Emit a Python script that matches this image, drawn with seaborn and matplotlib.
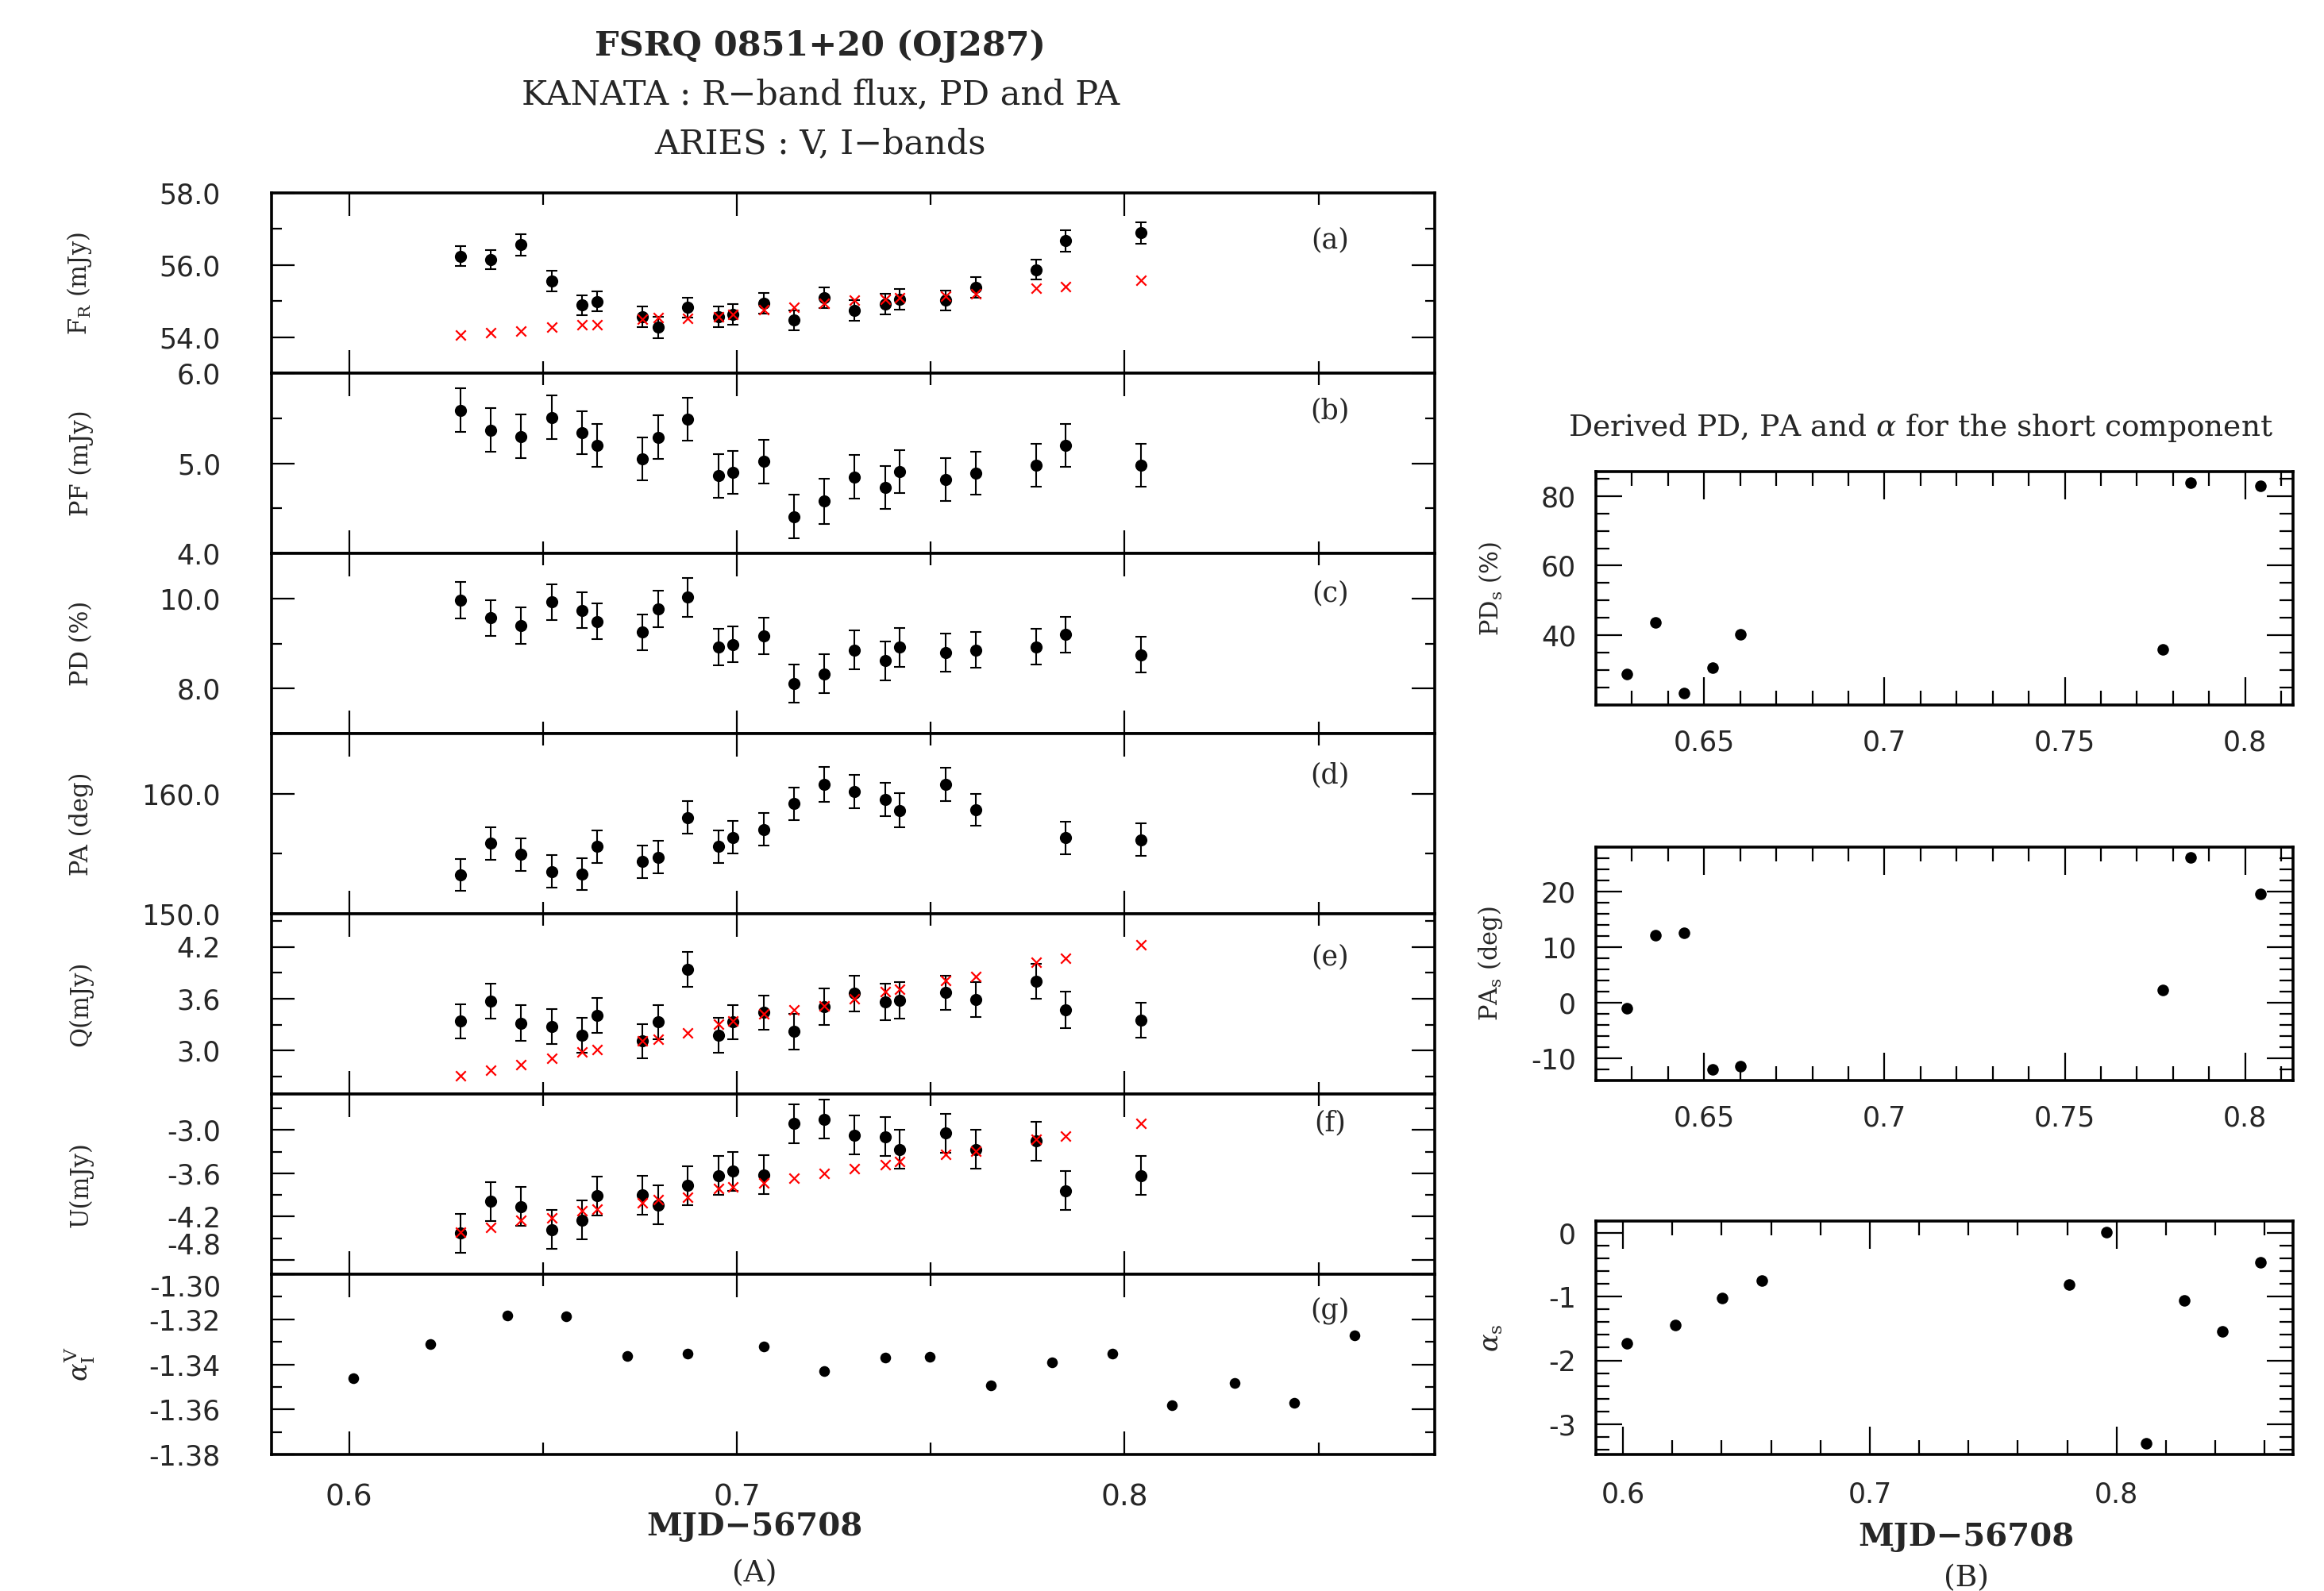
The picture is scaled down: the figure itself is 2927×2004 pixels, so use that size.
import matplotlib
matplotlib.use("Agg")
import matplotlib.pyplot as plt
import numpy as np
import pandas as pd
import seaborn as sns

# ---- data (MJD - 56708) ----
mjd = [0.6287, 0.6365, 0.6444, 0.6524, 0.6601, 0.6640, 0.6756, 0.6797, 0.6874, 0.6952, 0.6990,
       0.7070, 0.7147, 0.7225, 0.7304, 0.7382, 0.7420, 0.7539, 0.7616, 0.7771, 0.7848, 0.8043]

flux_r = [56.25, 56.15, 56.56, 55.56, 54.89, 54.99, 54.57, 54.27, 54.82, 54.57, 54.63,
          54.94, 54.47, 55.09, 54.74, 54.92, 55.05, 55.02, 55.38, 55.87, 56.67, 56.89]
flux_r_err = [0.28, 0.27, 0.29, 0.29, 0.28, 0.28, 0.28, 0.29, 0.28, 0.28, 0.28,
              0.28, 0.28, 0.28, 0.28, 0.28, 0.28, 0.28, 0.28, 0.28, 0.29, 0.29]
flux_r_model = [54.05, 54.13, 54.16, 54.27, 54.35, 54.35, 54.50, 54.55, 54.53, 54.57, 54.64,
                54.76, 54.84, 54.94, 55.02, 55.05, 55.09, 55.13, 55.20, 55.35, 55.41, 55.58]

pf = [5.59, 5.37, 5.30, 5.51, 5.34, 5.20, 5.05, 5.29, 5.49, 4.86, 4.90,
      5.02, 4.41, 4.58, 4.85, 4.73, 4.91, 4.82, 4.89, 4.98, 5.20, 4.98]
pf_err = [0.24, 0.24, 0.24, 0.24, 0.24, 0.24, 0.24, 0.24, 0.24, 0.24, 0.24,
          0.24, 0.24, 0.25, 0.24, 0.24, 0.24, 0.24, 0.24, 0.24, 0.24, 0.24]

pd_pct = [9.96, 9.57, 9.40, 9.92, 9.74, 9.49, 9.25, 9.77, 10.03, 8.92, 8.98,
          9.17, 8.11, 8.33, 8.86, 8.62, 8.92, 8.80, 8.86, 8.93, 9.20, 8.75]
pd_err = [0.40, 0.40, 0.40, 0.40, 0.40, 0.40, 0.40, 0.40, 0.43, 0.40, 0.40,
          0.40, 0.43, 0.43, 0.43, 0.43, 0.43, 0.43, 0.40, 0.40, 0.40, 0.40]

pa = [153.24, 155.88, 154.93, 153.53, 153.31, 155.59, 154.34, 154.72, 158.01, 155.59, 156.38,
      157.04, 159.16, 160.77, 160.20, 159.54, 158.62, 160.77, 158.66, np.nan, 156.32, 156.16]
pa_err = [1.35, 1.35, 1.35, 1.35, 1.35, 1.35, 1.35, 1.35, 1.35, 1.35, 1.35,
          1.35, 1.35, 1.45, 1.40, 1.40, 1.40, 1.40, 1.35, np.nan, 1.35, 1.35]

q = [3.34, 3.57, 3.32, 3.28, 3.18, 3.41, 3.11, 3.33, 3.94, 3.18, 3.33,
     3.44, 3.22, 3.51, 3.66, 3.56, 3.58, 3.67, 3.59, 3.80, 3.47, 3.35]
q_err = [0.20, 0.20, 0.21, 0.20, 0.20, 0.20, 0.20, 0.20, 0.20, 0.20, 0.20,
         0.20, 0.21, 0.21, 0.21, 0.21, 0.21, 0.20, 0.20, 0.20, 0.21, 0.20]
q_model = [2.71, 2.78, 2.84, 2.91, 2.99, 3.01, 3.11, 3.13, 3.21, 3.31, 3.34,
           3.43, 3.47, 3.52, 3.60, 3.68, 3.71, 3.81, 3.86, 4.02, 4.07, 4.22]

u = [-4.43, -3.99, -4.06, -4.38, -4.25, -3.91, -3.90, -4.04, -3.77, -3.63, -3.57,
     -3.62, -2.91, -2.85, -3.07, -3.09, -3.27, -3.04, -3.27, -3.15, -3.84, -3.63]
u_err = [0.27, 0.27, 0.27, 0.27, 0.27, 0.27, 0.27, 0.27, 0.27, 0.27, 0.27,
         0.27, 0.27, 0.27, 0.27, 0.27, 0.27, 0.27, 0.27, 0.27, 0.27, 0.27]
u_model = [-4.42, -4.35, -4.25, -4.22, -4.12, -4.10, -4.01, -3.96, -3.93, -3.81, -3.79,
           -3.73, -3.67, -3.60, -3.53, -3.48, -3.43, -3.34, -3.29, -3.13, -3.08, -2.91]

mjd_alpha = [0.6012, 0.6210, 0.6408, 0.6560, 0.6717, 0.6874, 0.7070, 0.7225, 0.7382,
             0.7498, 0.7655, 0.7812, 0.7969, 0.8123, 0.8283, 0.8437, 0.8592]
alpha_vi = [-1.3460, -1.3309, -1.3182, -1.3188, -1.3363, -1.3351, -1.3320, -1.3430, -1.3371,
            -1.3367, -1.3493, -1.3391, -1.3351, -1.3583, -1.3481, -1.3572, -1.3271]

# short component (panel B)
mjd_short = [0.6287, 0.6365, 0.6444, 0.6524, 0.6601, 0.7771, 0.7848, 0.8043]
pd_short = [28.8, 43.6, 23.3, 30.7, 40.2, 36.0, 83.7, 82.9]
pa_short = [-1.0, 12.2, 12.6, -12.0, -11.5, 2.3, 26.2, 19.6]
mjd_alpha_short = [0.6015, 0.6212, 0.6403, 0.6562, 0.7808, 0.7960, 0.8119, 0.8274, 0.8429, 0.8584]
alpha_short = [-1.73, -1.44, -1.02, -0.74, -0.81, 0.02, -3.31, -1.06, -1.55, -0.46]

sns.set_theme(style="ticks")
plt.rcParams.update({
    "font.family": ["DejaVu Sans"],
    "mathtext.fontset": "dejavuserif",
    "axes.unicode_minus": False,
    "axes.linewidth": 2.6,
    "axes.edgecolor": "black",
})
SERIF = "DejaVu Serif"

fig = plt.figure(figsize=(29.27, 20.04), dpi=100)


def dots(ax, x, y, size=120):
    df = pd.DataFrame({"x": x, "y": y}).dropna()
    sns.scatterplot(data=df, x="x", y="y", ax=ax, color="black", s=size,
                    linewidth=0, legend=False, zorder=3)


def crosses(ax, x, y):
    df = pd.DataFrame({"x": x, "y": y})
    sns.scatterplot(data=df, x="x", y="y", ax=ax, color="red", marker="x", s=80,
                    linewidth=1.6, legend=False, zorder=4)


def set_ticks(ax, xmaj, xmin, ymaj, ymin, xmaj_len, xmin_len, ymaj_len, ymin_len):
    ax.set_xticks(xmaj)
    ax.set_xticks(xmin, minor=True)
    ax.set_yticks(ymaj)
    ax.set_yticks(ymin, minor=True)
    ax.tick_params(which="both", direction="in", top=True, right=True,
                   width=1.6, color="black")
    ax.tick_params(axis="x", which="major", length=xmaj_len)
    ax.tick_params(axis="x", which="minor", length=xmin_len)
    ax.tick_params(axis="y", which="major", length=ymaj_len)
    ax.tick_params(axis="y", which="minor", length=ymin_len)
    ax.set_xlabel("")
    ax.set_ylabel("")
    ax.grid(False)


# ---- (A) left stack ----
left_x, left_w = 0.1168, 0.5006
top_y, bot_y = 0.8787, 0.0858
ph = (top_y - bot_y) / 7

panels = [
    dict(y=flux_r, err=flux_r_err, model=flux_r_model, lim=(53, 58),
         maj=[54, 56, 58], mnr=[53, 55, 57], fmt="{:.1f}",
         label=r"F$_\mathrm{R}$ (mJy)", tag="(a)", tag_y=0.74),
    dict(y=pf, err=pf_err, model=None, lim=(4, 6),
         maj=[4, 5, 6], mnr=[4.5, 5.5], fmt="{:.1f}",
         label="PF (mJy)", tag="(b)", tag_y=0.79),
    dict(y=pd_pct, err=pd_err, model=None, lim=(7, 11),
         maj=[8, 10], mnr=[7, 9, 11], fmt="{:.1f}",
         label="PD (%)", tag="(c)", tag_y=0.78),
    dict(y=pa, err=pa_err, model=None, lim=(150, 165),
         maj=[150, 160], mnr=[155, 165], fmt="{:.1f}",
         label="PA (deg)", tag="(d)", tag_y=0.77),
    dict(y=q, err=q_err, model=q_model, lim=(2.5, 4.58),
         maj=[3.0, 3.6, 4.2], mnr=[2.7, 3.3, 3.9, 4.5], fmt="{:.1f}",
         label="Q(mJy)", tag="(e)", tag_y=0.76),
    dict(y=u, err=u_err, model=u_model, lim=(-5.0, -2.5),
         maj=[-4.8, -4.2, -3.6, -3.0], mnr=[-4.5, -3.9, -3.3, -2.7], fmt="{:.1f}",
         label="U(mJy)", tag="(f)", tag_y=0.84),
]

for i, p in enumerate(panels):
    ax = fig.add_axes([left_x, top_y - (i + 1) * ph, left_w, ph])
    ax.errorbar(mjd, p["y"], yerr=p["err"], fmt="none", ecolor="black",
                elinewidth=1.5, capsize=5, capthick=1.5, zorder=2)
    dots(ax, mjd, p["y"])
    if p["model"] is not None:
        crosses(ax, mjd, p["model"])
    ax.set_xlim(0.58, 0.88)
    ax.set_ylim(*p["lim"])
    set_ticks(ax, [0.6, 0.7, 0.8], [0.65, 0.75, 0.85], p["maj"], p["mnr"], 21, 11, 21, 9)
    ax.set_yticklabels([p["fmt"].format(v) for v in p["maj"]])
    ax.tick_params(axis="y", labelsize=25, pad=46)
    ax.tick_params(axis="x", labelbottom=False)
    ax.text(0.91, p["tag_y"], p["tag"], transform=ax.transAxes, ha="center", va="center",
            fontsize=25, family=SERIF)
    ax.set_ylabel(p["label"], fontsize=22, family=SERIF)
    ax.yaxis.set_label_coords(-0.153, 0.5)
    if i == len(panels) - 1:
        # lowest label sits on the panel boundary: keep it just above the next panel's label
        ax.get_yticklabels()[0].set_verticalalignment("bottom")

# panel (g): spectral index
ax = fig.add_axes([left_x, bot_y, left_w, ph])
dots(ax, mjd_alpha, alpha_vi, size=95)
ax.set_xlim(0.58, 0.88)
ax.set_ylim(-1.38, -1.30)
set_ticks(ax, [0.6, 0.7, 0.8], [0.65, 0.75, 0.85],
          [-1.38, -1.36, -1.34, -1.32, -1.30], [-1.37, -1.35, -1.33, -1.31], 21, 11, 21, 9)
ax.set_yticklabels(["-1.38", "-1.36", "-1.34", "-1.32", "-1.30"])
ax.get_yticklabels()[-1].set_verticalalignment("top")
ax.set_xticklabels(["0.6", "0.7", "0.8"])
ax.tick_params(axis="y", labelsize=25, pad=46)
ax.tick_params(axis="x", labelsize=27, pad=26)
ax.text(0.91, 0.80, "(g)", transform=ax.transAxes, ha="center", va="center",
        fontsize=25, family=SERIF)
ax.set_ylabel(r"$\alpha_\mathrm{I}^\mathrm{V}$", fontsize=24)
ax.yaxis.set_label_coords(-0.150, 0.5)

fig.text(0.3248, 0.0404, "MJD\u221256708", ha="center", va="center", fontsize=29,
         family=SERIF, weight="bold")
fig.text(0.3248, 0.011, "(A)", ha="center", va="center", fontsize=27, family=SERIF)

fig.text(0.353, 0.971, "FSRQ 0851+20 (OJ287)", ha="center", va="center", fontsize=31,
         family=SERIF, weight="bold")
fig.text(0.353, 0.9406, "KANATA : R\u2212band flux, PD and PA", ha="center", va="center",
         fontsize=31, family=SERIF)
fig.text(0.353, 0.9097, "ARIES : V, I\u2212bands", ha="center", va="center",
         fontsize=31, family=SERIF)

# ---- (B) right column ----
rx, rw = 0.6867, 0.3000
rh = 0.1467

fig.text(0.8266, 0.731, r"Derived PD, PA and $\alpha$ for the short component",
         ha="center", va="center", fontsize=27, family=SERIF)

ax = fig.add_axes([rx, 0.5569, rw, rh])
dots(ax, mjd_short, pd_short, size=110)
ax.set_xlim(0.62, 0.8133)
ax.set_ylim(20, 87)
set_ticks(ax, [0.65, 0.7, 0.75, 0.8], np.arange(0.62, 0.815, 0.01).round(2),
          [40, 60, 80], np.arange(20, 90, 5), 25, 13, 24, 12)
ax.set_xticklabels(["0.65", "0.7", "0.75", "0.8"])
ax.set_yticklabels(["40", "60", "80"])
ax.tick_params(axis="both", labelsize=25)
ax.tick_params(axis="x", pad=22)
ax.tick_params(axis="y", pad=18)
ax.set_ylabel(r"PD$_\mathrm{s}$ (%)", fontsize=22, family=SERIF)
ax.yaxis.set_label_coords(-0.131, 0.5)

ax = fig.add_axes([rx, 0.3209, rw, rh])
dots(ax, mjd_short, pa_short, size=110)
ax.set_xlim(0.62, 0.8133)
ax.set_ylim(-14, 28)
set_ticks(ax, [0.65, 0.7, 0.75, 0.8], np.arange(0.62, 0.815, 0.01).round(2),
          [-10, 0, 10, 20], np.arange(-14, 29, 2), 25, 13, 24, 12)
ax.set_xticklabels(["0.65", "0.7", "0.75", "0.8"])
ax.set_yticklabels(["-10", "0", "10", "20"])
ax.tick_params(axis="both", labelsize=25)
ax.tick_params(axis="x", pad=22)
ax.tick_params(axis="y", pad=18)
ax.set_ylabel(r"PA$_\mathrm{s}$ (deg)", fontsize=22, family=SERIF)
ax.yaxis.set_label_coords(-0.131, 0.5)

ax = fig.add_axes([rx, 0.0858, rw, rh])
dots(ax, mjd_alpha_short, alpha_short, size=110)
ax.set_xlim(0.589, 0.8715)
ax.set_ylim(-3.48, 0.19)
set_ticks(ax, [0.6, 0.7, 0.8], np.arange(0.60, 0.871, 0.02).round(2),
          [-3, -2, -1, 0], np.arange(-3.4, 0.2, 0.2).round(1), 25, 13, 24, 12)
ax.set_xticklabels(["0.6", "0.7", "0.8"])
ax.set_yticklabels(["-3", "-2", "-1", "0"])
ax.tick_params(axis="both", labelsize=25)
ax.tick_params(axis="x", pad=24)
ax.tick_params(axis="y", pad=18)
ax.set_ylabel(r"$\alpha_\mathrm{s}$", fontsize=24)
ax.yaxis.set_label_coords(-0.131, 0.5)

fig.text(0.846, 0.034, "MJD\u221256708", ha="center", va="center", fontsize=29,
         family=SERIF, weight="bold")
fig.text(0.846, 0.008, "(B)", ha="center", va="center", fontsize=27, family=SERIF)

fig.savefig("out.png", dpi=100, facecolor="white")
